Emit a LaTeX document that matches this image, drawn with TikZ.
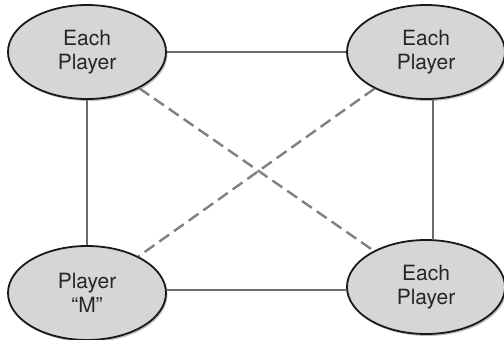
\documentclass[tikz,border=0pt]{standalone}
\usepackage{fontspec}
\setmainfont{TeX Gyre Heros}
\usetikzlibrary{shadows,shapes.geometric}
\begin{document}
\begin{tikzpicture}[x=1pt,y=-1pt,
  player/.style={ellipse, draw=black!90, line width=1.8pt, fill=black!16,
    minimum width=158pt, minimum height=94pt, inner sep=0pt, align=center,
    font=\fontsize{21}{24.5}\selectfont, text=black!85,
    drop shadow={shadow xshift=1.5pt, shadow yshift=-2pt, opacity=0.25, fill=black}},
  solidlink/.style={draw=black!58, line width=1.8pt},
  dashlink/.style={draw=black!50, line width=2.4pt, dash pattern=on 12pt off 6pt}]
\useasboundingbox (0,0) rectangle (504,340);
\node[player] (tl) at (87,52) {Each\\Player};
\node[player] (tr) at (426,52) {Each\\Player};
\node[player] (bl) at (87,293) {Player\\``M''};
\node[player] (br) at (426,287) {Each\\Player};
\draw[solidlink] (tl.east) -- (tr.west);
\draw[solidlink] (tl.south) -- (bl.north);
\draw[solidlink] ([xshift=7pt]tr.south) -- ([xshift=7pt]br.north);
\draw[solidlink] ([yshift=3pt]bl.east) -- ([yshift=-3pt]br.west);
\draw[dashlink] (tl) -- (br);
\draw[dashlink] (tr) -- (bl);
\end{tikzpicture}
\end{document}
